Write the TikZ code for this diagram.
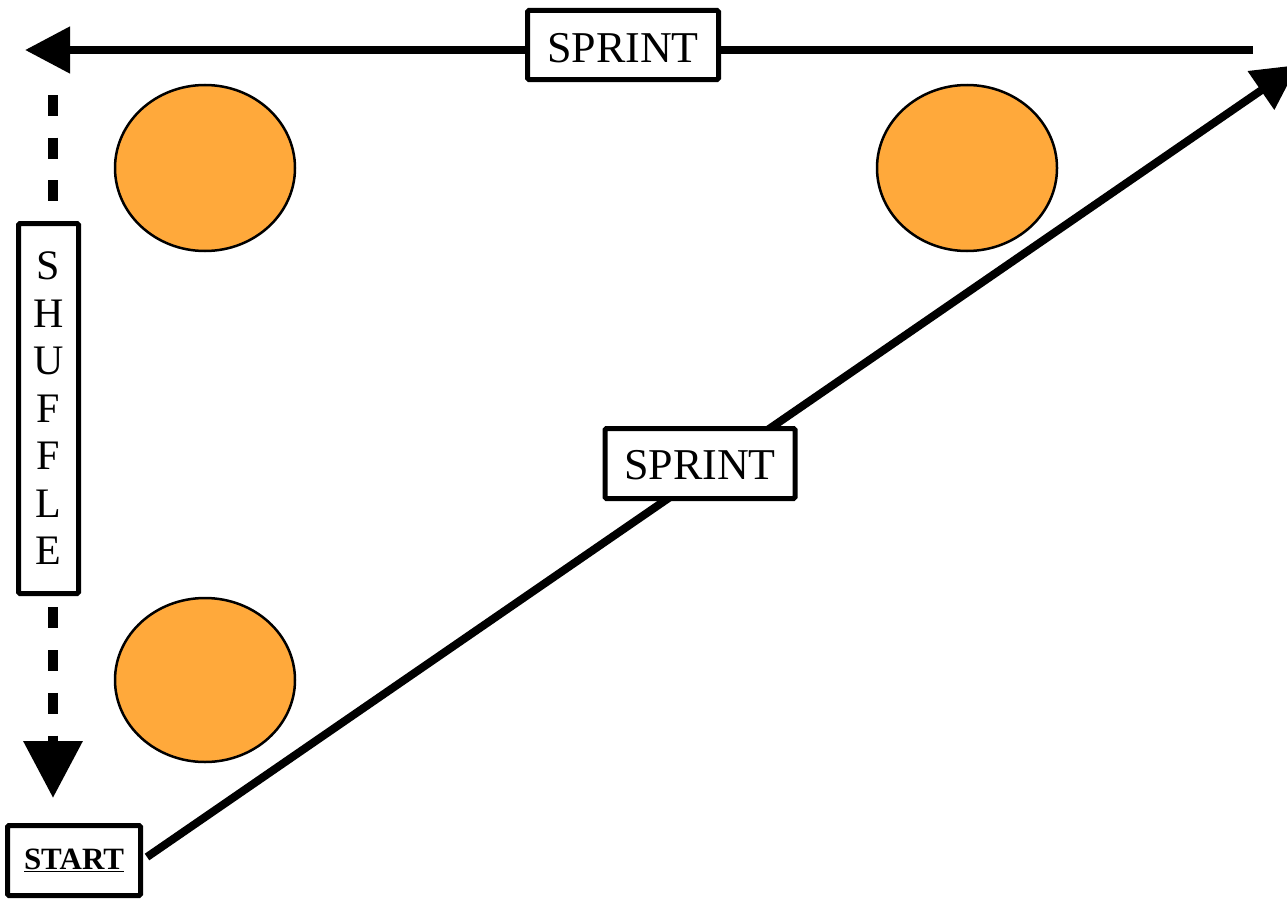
\documentclass[tikz,border=0pt]{standalone}
\usepackage{fontspec}
\setmainfont{Liberation Serif}
\usetikzlibrary{arrows.meta}
\definecolor{conecol}{RGB}{255,169,59}
\begin{document}
\begin{tikzpicture}[x=1pt,y=-1pt,
  labelbox/.style={draw,line width=5pt,fill=white,rounded corners=1.5pt,inner sep=0pt},
  pathline/.style={line width=8pt,-{Triangle[length=45pt,width=45pt]}},
  conestyle/.style={fill=conecol,draw=black,line width=2.5pt}]
\useasboundingbox (0,0) rectangle (1287,899);
\fill[white] (0,0) rectangle (1287,899);
% cones
\draw[conestyle] (205,168) ellipse [x radius=90, y radius=83];
\draw[conestyle] (967,168) ellipse [x radius=90, y radius=83];
\draw[conestyle] (205,680) ellipse [x radius=90, y radius=82];
% coordinates
\coordinate (tr) at (1253,50);
\coordinate (tl) at (25,50);
\coordinate (vtop) at (53,95);
\coordinate (vbot) at (53,798);
\coordinate (d0) at (147,857);
\coordinate (d1) at (1298,65);
% connectors
\draw[pathline] (tr) -- (tl);
\draw[pathline] (d0) -- (d1);
\draw[line width=10pt,dash pattern=on 21pt off 21.7pt,-{Triangle[length=57pt,width=57pt]}] (vtop) -- (vbot);
% boxes
\node[labelbox,minimum width=191pt,minimum height=69pt] (sp1) at (623,45) {\fontsize{44}{50}\selectfont\raisebox{-3pt}[\height][0pt]{SPRINT}};
\node[labelbox,minimum width=190pt,minimum height=70pt] (sp2) at (700,463.5) {\fontsize{44}{50}\selectfont\raisebox{-1.5pt}[\height][0pt]{SPRINT}};
\node[labelbox,minimum width=60pt,minimum height=370pt,align=center,font=\fontsize{42}{47.5}\selectfont] (shuf) at (48.5,408.5) {S\\H\\U\\F\\F\\L\\E};
\node[labelbox,minimum width=133pt,minimum height=70pt] (start) at (74,860.5) {\fontsize{31}{36}\selectfont\bfseries\underline{START}};
\end{tikzpicture}
\end{document}
